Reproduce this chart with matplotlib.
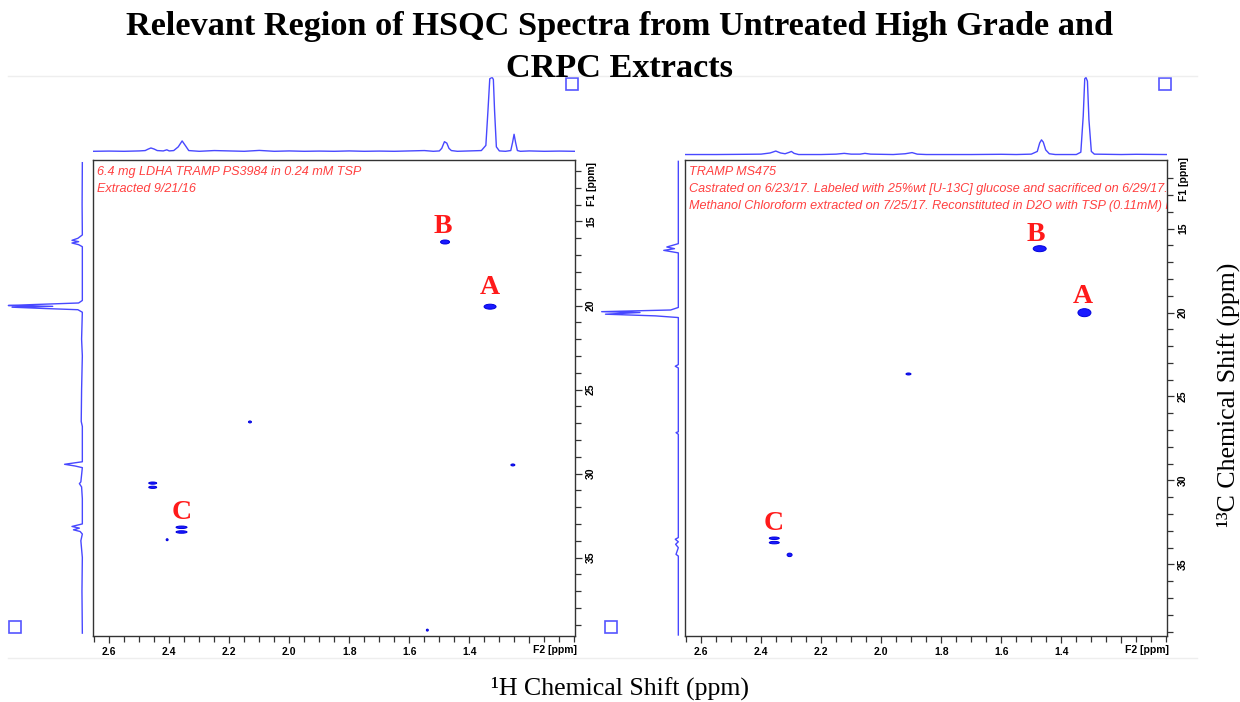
import matplotlib
matplotlib.use("Agg")
import matplotlib.pyplot as plt
from matplotlib.patches import Ellipse, Rectangle
from matplotlib.lines import Line2D
from matplotlib.ticker import FixedLocator, FixedFormatter

# ---------------- data ----------------
title = "Relevant Region of HSQC Spectra from Untreated High Grade and\nCRPC Extracts"
xlabel = "\u00b9H Chemical Shift (ppm)"
ylabel = "\u00b9\u00b3C Chemical Shift (ppm)"

left_notes = ["6.4 mg LDHA TRAMP PS3984 in 0.24 mM TSP", "Extracted 9/21/16"]
right_notes = ["TRAMP MS475",
               "Castrated on 6/23/17. Labeled with 25%wt [U-13C] glucose and sacrificed on 6/29/17.",
               "Methanol Chloroform extracted on 7/25/17. Reconstituted in D2O with TSP (0.11mM) in D2O"]

x_major = [2.6, 2.4, 2.2, 2.0, 1.8, 1.6, 1.4, 1.2]
x_labels = ["2.6", "2.4", "2.2", "2.0", "1.8", "1.6", "1.4", ""]
y_major = [15, 20, 25, 30, 35]
y_labels = ["15", "20", "25", "30", "35"]

# 2D cross peaks (1H ppm, 13C ppm)
left_peak_h = [1.481, 1.331, 2.131, 2.455, 2.455, 2.359, 2.359, 2.407, 1.255, 1.540]
left_peak_c = [16.22, 20.07, 26.93, 30.57, 30.82, 33.20, 33.48, 33.94, 29.49, 39.32]
right_peak_h = [1.472, 1.323, 1.909, 2.356, 2.356, 2.305]
right_peak_c = [16.20, 20.01, 23.66, 33.44, 33.70, 34.43]

# peak labels (letter, 1H ppm, 13C ppm)
left_labels = [("B", 1.487, 15.30), ("A", 1.331, 18.90), ("C", 2.360, 32.30)]
right_labels = [("B", 1.486, 15.35), ("A", 1.329, 19.05), ("C", 2.357, 32.55)]

# 1D projections: (ppm, relative intensity)
left_top = [(2.655, 0.0), (2.60, 0.003), (2.55, 0.0), (2.50, 0.005), (2.48, 0.01), (2.47, 0.03),
            (2.461, 0.045), (2.45, 0.03), (2.44, 0.01), (2.42, 0.005), (2.408, 0.02), (2.40, 0.005),
            (2.385, 0.01), (2.37, 0.06), (2.357, 0.14), (2.345, 0.07), (2.335, 0.01), (2.30, 0.0),
            (2.25, 0.01), (2.20, 0.005), (2.15, 0.0), (2.10, 0.012), (2.05, 0.0), (2.00, 0.005),
            (1.95, 0.0), (1.90, 0.003), (1.85, 0.0), (1.80, 0.005), (1.75, 0.0), (1.70, 0.003),
            (1.65, 0.0), (1.60, 0.005), (1.55, 0.01), (1.52, 0.0), (1.50, 0.005), (1.492, 0.04),
            (1.483, 0.13), (1.475, 0.11), (1.468, 0.04), (1.46, 0.01), (1.44, 0.0), (1.40, 0.005),
            (1.36, 0.01), (1.345, 0.08), (1.338, 0.55), (1.332, 0.98), (1.328, 0.99), (1.324, 1.0),
            (1.320, 0.97), (1.316, 0.55), (1.31, 0.06), (1.30, 0.005), (1.28, 0.0), (1.262, 0.01),
            (1.256, 0.12), (1.251, 0.23), (1.246, 0.12), (1.24, 0.01), (1.23, 0.0), (1.20, 0.005),
            (1.15, 0.0), (1.10, 0.003), (1.048, 0.0)]
right_top = [(2.655, 0.0), (2.55, 0.0), (2.45, 0.003), (2.40, 0.005), (2.37, 0.02), (2.351, 0.045),
             (2.335, 0.02), (2.32, 0.01), (2.305, 0.03), (2.299, 0.04), (2.29, 0.015), (2.275, 0.0),
             (2.20, 0.0), (2.15, 0.005), (2.123, 0.015), (2.10, 0.005), (2.07, 0.005), (2.054, 0.015),
             (2.035, 0.005), (1.96, 0.0), (1.92, 0.01), (1.897, 0.025), (1.88, 0.005), (1.85, 0.0),
             (1.70, 0.0), (1.60, 0.003), (1.55, 0.0), (1.50, 0.005), (1.48, 0.04), (1.472, 0.15),
             (1.466, 0.19), (1.46, 0.16), (1.452, 0.06), (1.44, 0.01), (1.42, 0.0), (1.35, 0.0),
             (1.335, 0.03), (1.327, 0.5), (1.322, 0.98), (1.318, 1.0), (1.313, 0.95), (1.308, 0.45),
             (1.30, 0.04), (1.29, 0.005), (1.20, 0.0), (1.15, 0.003), (1.048, 0.0)]
left_side = [(11.5, 0.0), (14.0, 0.003), (15.8, 0.0), (16.0, 0.06), (16.12, 0.14), (16.2, 0.05),
             (16.28, 0.14), (16.38, 0.05), (16.5, 0.0), (19.7, 0.0), (19.85, 0.05), (19.95, 0.7),
             (20.0, 1.0), (20.05, 0.4), (20.1, 0.95), (20.18, 0.5), (20.25, 0.06), (20.4, 0.0),
             (22.0, 0.01), (23.0, 0.0), (25.0, 0.01), (26.9, 0.015), (27.2, 0.0), (29.3, 0.0),
             (29.45, 0.24), (29.55, 0.1), (29.65, 0.0), (30.5, 0.02), (30.6, 0.04), (30.8, 0.01),
             (31.5, 0.0), (33.0, 0.0), (33.15, 0.14), (33.25, 0.04), (33.35, 0.12), (33.45, 0.03),
             (33.6, 0.0), (34.0, 0.02), (35.0, 0.0), (37.0, 0.005), (39.5, 0.0)]
right_side = [(11.0, 0.0), (15.9, 0.0), (16.1, 0.15), (16.2, 0.05), (16.3, 0.19), (16.45, 0.0),
              (19.7, 0.0), (19.85, 0.1), (19.95, 1.0), (20.0, 0.5), (20.1, 0.95), (20.2, 0.3),
              (20.3, 0.0), (23.1, 0.0), (23.2, 0.04), (23.3, 0.0), (27.1, 0.0), (27.15, 0.03),
              (27.25, 0.0), (33.4, 0.0), (33.5, 0.04), (33.65, 0.0), (33.8, 0.035), (34.0, 0.0),
              (34.4, 0.03), (34.5, 0.0), (39.2, 0.0)]

# ---------------- style / layout ----------------
W, H = 1240, 702
fig = plt.figure(figsize=(W / 100, H / 100), dpi=100)
fig.patch.set_facecolor("white")

SANS = ["Liberation Sans", "DejaVu Sans"]
SERIF = ["Liberation Serif", "DejaVu Serif"]
TRACE = "#4848ff"
PEAK = "#1a1aff"
RED = "#ff1a1a"
NOTE = "#ff4040"

# peak sizes in pixels (w, h)
left_sizes = [(9, 4), (12, 5), (3, 2), (8, 2.2), (8, 2.2), (11, 2.5), (11, 2.5), (2, 2), (4, 2), (2, 2)]
right_sizes = [(13, 6), (13, 8), (5, 2), (10, 2.5), (10, 2.5), (5, 3.5)]


def px_axes(x0, y0, x1, y1):
    return fig.add_axes([x0 / W, 1 - y1 / H, (x1 - x0) / W, (y1 - y0) / H])


def fig_line(x0, x1, y, color="#eeeeee", lw=1.0):
    fig.add_artist(Line2D([x0 / W, x1 / W], [1 - y / H, 1 - y / H], transform=fig.transFigure,
                          color=color, lw=lw))


def fig_square(x0, y0, size=12):
    fig.add_artist(Rectangle((x0 / W, 1 - (y0 + size) / H), size / W, size / H,
                             transform=fig.transFigure, fill=False, edgecolor="#5555ff", lw=1.2))


def make_panel(x0, x1, ylim, side_x0, side_x1, side_lim, top_y1, top_lim,
               peaks_h, peaks_c, sizes, labels, notes, top_trace, side_trace, f1_frac):
    xlim = (2.655, 1.048)
    ax = px_axes(x0, 160, x1, 636)
    ax.set_xlim(*xlim)
    ax.set_ylim(*ylim)
    for s in ax.spines.values():
        s.set_color("#333333")
        s.set_linewidth(1.0)
    ax.yaxis.tick_right()
    ax.xaxis.set_major_locator(FixedLocator(x_major))
    ax.xaxis.set_major_formatter(FixedFormatter(x_labels))
    ax.xaxis.set_minor_locator(FixedLocator([2.65 - 0.05 * i for i in range(33)]))
    ax.yaxis.set_major_locator(FixedLocator(y_major))
    ax.yaxis.set_major_formatter(FixedFormatter(y_labels))
    ax.yaxis.set_minor_locator(FixedLocator(list(range(12, 40))))
    ax.tick_params(axis="both", which="both", direction="out", color="#333333", width=0.9)
    ax.tick_params(axis="both", which="major", length=5, labelsize=7.5, pad=3)
    ax.tick_params(axis="both", which="minor", length=4)
    for lab in ax.get_xticklabels():
        lab.set_fontweight("bold")
        lab.set_family(SANS)
    for lab in ax.get_yticklabels():
        lab.set_fontweight("bold")
        lab.set_family(SANS)
        lab.set_rotation(90)
        lab.set_va("center")
    ax.text((x1 - 20 - x0) / (x1 - x0), -0.03, "F2 [ppm]", transform=ax.transAxes, ha="center",
            va="center", fontsize=7.5, fontweight="bold", family=SANS)
    ax.text(1.035, f1_frac, "F1 [ppm]", transform=ax.transAxes, ha="center", va="center",
            rotation=90, fontsize=7.5, fontweight="bold", family=SANS)

    xpp = abs(xlim[1] - xlim[0]) / (x1 - x0)
    ypp = abs(ylim[1] - ylim[0]) / 476.0
    for h, c, (wp, hp) in zip(peaks_h, peaks_c, sizes):
        ax.add_patch(Ellipse((h, c), wp * xpp, hp * ypp, facecolor=PEAK, edgecolor="#0000dd",
                             lw=0.7, zorder=3))
    for letter, h, c in labels:
        ax.text(h, c, letter, ha="center", va="center", color=RED, fontsize=20,
                fontweight="bold", family=SERIF, zorder=4)
    for i, t in enumerate(notes):
        ax.text((5 - 0.8) / (x1 - x0), 1 - (12 + 16.8 * i) / 476.0, t, transform=ax.transAxes,
                ha="left", va="center", color=NOTE, fontsize=9.1, fontstyle="italic",
                family=SANS, clip_on=True)

    # top 1D projection
    axt = px_axes(x0, 75, x1, top_y1)
    axt.plot([p for p, v in top_trace], [v for p, v in top_trace], color=TRACE, lw=1.0)
    axt.set_xlim(*xlim)
    axt.set_ylim(*top_lim)
    axt.axis("off")

    # side 1D projection
    axs = px_axes(side_x0, 160, side_x1, 636)
    axs.plot([v for p, v in side_trace], [p for p, v in side_trace], color=TRACE, lw=1.0)
    axs.set_ylim(*ylim)
    axs.set_xlim(*side_lim)
    axs.axis("off")
    return ax


make_panel(92.7, 575.0, (39.67, 11.34), 5, 85, (1.045, -0.036), 155, (-0.05, 1.031),
           left_peak_h, left_peak_c, left_sizes, left_labels, left_notes, left_top, left_side, 0.95)
make_panel(684.5, 1167.0, (39.26, 10.92), 597, 681, (1.061, -0.035), 158, (-0.045, 1.03),
           right_peak_h, right_peak_c, right_sizes, right_labels, right_notes, right_top, right_side,
           0.96)

# faint frame lines & corner boxes
fig_line(8, 1197, 76)
fig_line(8, 1197, 657.7)
fig_square(565.5, 78)
fig_square(8.7, 620.5)
fig_square(1158.5, 78)
fig_square(605, 620.5)

fig.text(0.5, 1 - 47.5 / H, title, ha="center", va="center", fontsize=24.7, fontweight="bold",
         family=SERIF, linespacing=1.42)
fig.text(620 / W, 1 - 688 / H, xlabel, ha="center", va="center", fontsize=18.6, family=SERIF)
fig.text(1228 / W, 1 - 395 / H, ylabel, ha="center", va="center", fontsize=18.6, family=SERIF,
         rotation=90)

fig.savefig("out.png", dpi=100, facecolor="white")
